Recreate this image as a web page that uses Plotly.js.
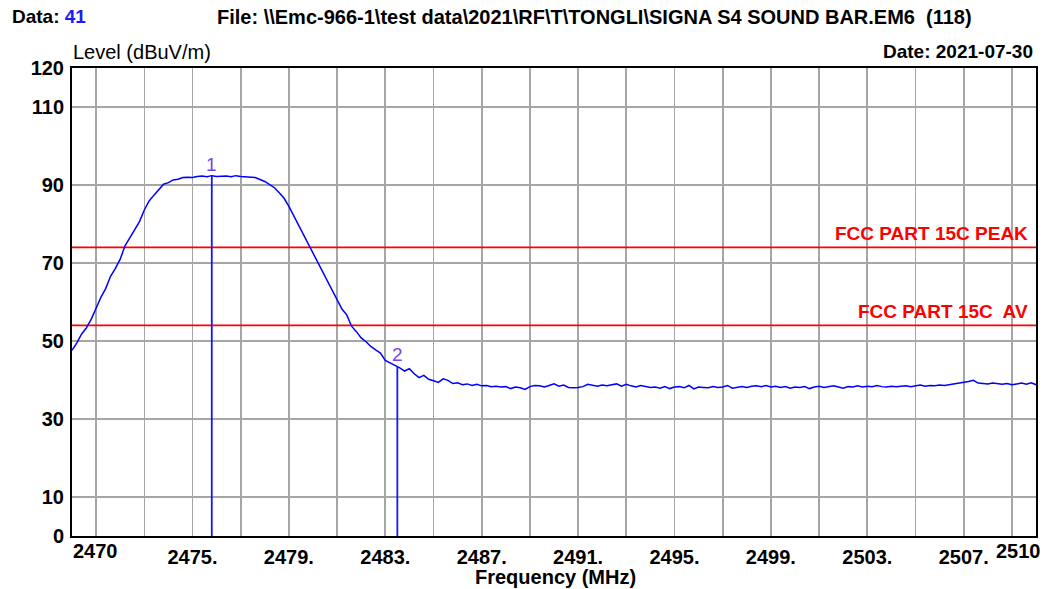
<!DOCTYPE html>
<html>
<head>
<meta charset="utf-8">
<script src="https://cdn.plot.ly/plotly-3.0.1.min.js"></script>
<style>
html,body{margin:0;padding:0;background:#fff;}
#chart{width:1044px;height:589px;}
</style>
</head>
<body>
<div id="chart"></div>
<script>
// ---------- data ----------
const freqMHz = [
  2470.0,2470.2,2470.4,2470.6,2470.8,
  2471.0,2471.2,2471.4,2471.6,2471.8,
  2472.0,2472.2,2472.4,2472.6,2472.8,
  2473.0,2473.2,2473.4,2473.6,2473.8,
  2474.0,2474.2,2474.4,2474.6,2474.8,
  2475.0,2475.2,2475.4,2475.6,2475.8,
  2476.0,2476.2,2476.4,2476.6,2476.8,
  2477.0,2477.2,2477.4,2477.6,2477.8,
  2478.0,2478.2,2478.4,2478.6,2478.8,
  2479.0,2479.2,2479.4,2479.6,2479.8,
  2480.0,2480.2,2480.4,2480.6,2480.8,
  2481.0,2481.2,2481.4,2481.6,2481.8,
  2482.0,2482.2,2482.4,2482.6,2482.8,
  2483.0,2483.2,2483.4,2483.6,2483.8,
  2484.0,2484.2,2484.4,2484.6,2484.8,
  2485.0,2485.2,2485.4,2485.6,2485.8,
  2486.0,2486.2,2486.4,2486.6,2486.8,
  2487.0,2487.2,2487.4,2487.6,2487.8,
  2488.0,2488.2,2488.4,2488.6,2488.8,
  2489.0,2489.2,2489.4,2489.6,2489.8,
  2490.0,2490.2,2490.4,2490.6,2490.8,
  2491.0,2491.2,2491.4,2491.6,2491.8,
  2492.0,2492.2,2492.4,2492.6,2492.8,
  2493.0,2493.2,2493.4,2493.6,2493.8,
  2494.0,2494.2,2494.4,2494.6,2494.8,
  2495.0,2495.2,2495.4,2495.6,2495.8,
  2496.0,2496.2,2496.4,2496.6,2496.8,
  2497.0,2497.2,2497.4,2497.6,2497.8,
  2498.0,2498.2,2498.4,2498.6,2498.8,
  2499.0,2499.2,2499.4,2499.6,2499.8,
  2500.0,2500.2,2500.4,2500.6,2500.8,
  2501.0,2501.2,2501.4,2501.6,2501.8,
  2502.0,2502.2,2502.4,2502.6,2502.8,
  2503.0,2503.2,2503.4,2503.6,2503.8,
  2504.0,2504.2,2504.4,2504.6,2504.8,
  2505.0,2505.2,2505.4,2505.6,2505.8,
  2506.0,2506.2,2506.4,2506.6,2506.8,
  2507.0,2507.2,2507.4,2507.6,2507.8,
  2508.0,2508.2,2508.4,2508.6,2508.8,
  2509.0,2509.2,2509.4,2509.6,2509.8,
  2510.0
];
const levelDbuvM = [
  47.6,49.5,51.8,53.4,55.6,
  58.4,61.2,63.5,66.6,68.6,
  71.0,74.4,76.4,78.3,80.6,
  83.6,85.9,87.4,88.8,90.2,
  90.6,91.3,91.5,91.9,92.0,
  91.9,92.2,92.3,92.1,92.4,
  92.2,92.3,92.3,92.1,92.4,
  92.2,92.1,92.1,91.9,91.4,
  90.9,90.1,89.3,88.0,86.6,
  84.5,82.1,79.7,77.2,75.0,
  72.4,70.0,67.8,65.4,62.7,
  60.3,58.2,56.7,53.8,52.4,
  50.8,49.8,48.6,47.7,46.9,
  45.0,44.4,43.6,43.1,42.3,
  42.9,41.6,40.6,41.2,40.2,
  39.8,39.4,40.3,39.9,39.1,
  39.3,38.8,39.0,38.6,38.9,
  38.5,38.6,38.3,38.4,38.2,
  38.3,37.8,38.2,38.0,37.6,
  38.3,38.6,38.5,38.2,38.6,
  39.0,38.4,38.7,38.1,38.0,
  38.1,38.3,38.9,38.6,38.4,
  38.7,38.5,38.8,39.0,38.4,
  38.9,38.5,38.2,38.6,38.4,
  38.1,38.2,37.9,38.3,37.8,
  38.2,38.3,38.0,38.6,37.7,
  38.2,38.1,38.0,38.3,38.1,
  38.2,38.6,37.9,38.1,38.3,
  38.1,38.4,38.5,38.3,38.6,
  38.2,38.4,38.1,38.3,37.9,
  38.2,38.1,38.3,37.8,38.2,
  38.4,38.1,38.3,38.5,38.2,
  37.9,38.3,38.2,38.5,38.2,
  38.4,38.3,38.6,38.3,38.2,
  38.4,38.3,38.4,38.5,38.3,
  38.5,38.7,38.4,38.6,38.5,
  38.7,38.6,38.8,38.9,39.1,
  39.4,39.6,39.9,39.2,39.1,
  39.0,39.2,39.0,38.9,39.1,
  38.8,39.0,39.2,38.9,39.3,
  38.8
];

const limitNames = ["FCC PART 15C PEAK", "FCC PART 15C\u00a0 AV"];
const limitLevels = [74, 54];

const markerLabels = ["1", "2"];
const markerFreqs = [2475.8, 2483.5];
const markerLevels = [92.4, 43.5];

const xTickVals = [2471,2473,2475,2477,2479,2481,2483,2485,2487,2489,2491,2493,2495,2497,2499,2501,2503,2505,2507,2509];
const xTickText = ["","","2475.","","2479.","","2483.","","2487.","","2491.","","2495.","","2499.","","2503.","","2507.",""];
const xStartLabel = "2470";
const xStopLabel = "2510";
const yTickVals = [0,10,30,50,70,90,110,120];
const yTickText = ["0","10","30","50","70","90","110","120"];

const headerData = "Data: ";
const headerDataNum = "41";
const headerFile = "File: \\\\Emc-966-1\\test data\\2021\\RF\\T\\TONGLI\\SIGNA S4 SOUND BAR.EM6 \u00a0(118)";
const headerDate = "Date: 2021-07-30";
const yTitle = "Level (dBuV/m)";
const xTitle = "Frequency (MHz)";

// ---------- traces ----------
const FONT = '"Liberation Sans", Arial, sans-serif';
const traces = [];
limitLevels.forEach((lv, i) => {
  traces.push({
    x: [2470, 2510], y: [lv, lv], mode: 'lines', type: 'scatter',
    line: {color: '#ff0000', width: 1.6}, hoverinfo: 'skip', showlegend: false
  });
});
traces.push({
  x: freqMHz, y: levelDbuvM, mode: 'lines', type: 'scatter',
  line: {color: '#0000ff', width: 1.5}, showlegend: false
});
markerFreqs.forEach((f, i) => {
  traces.push({
    x: [f, f], y: [0, markerLevels[i]], mode: 'lines', type: 'scatter',
    line: {color: '#1515ff', width: 1.8}, showlegend: false, hoverinfo: 'skip'
  });
});

// ---------- annotations ----------
const L = 72, R = 1036, T = 68, B = 536;
const W = R - L, H = B - T;
const px = v => (v - L) / W;
const py = v => (B - v) / H;
const ann = [];
ann.push({xref:'paper', yref:'paper', x: px(10), y: py(17), xanchor:'left', yanchor:'middle', showarrow:false,
  text: '<b>' + headerData + '<span style="color:#1a1aff">' + headerDataNum + '</span></b>',
  font:{family:FONT, size:19, color:'#000'}});
ann.push({xref:'paper', yref:'paper', x: px(215), y: py(17), xanchor:'left', yanchor:'middle', showarrow:false,
  text: '<b>' + headerFile + '</b>', font:{family:FONT, size:20, color:'#000'}});
ann.push({xref:'paper', yref:'paper', x: px(71), y: py(52), xanchor:'left', yanchor:'middle', showarrow:false,
  text: yTitle, font:{family:FONT, size:20, color:'#000'}});
ann.push({xref:'paper', yref:'paper', x: px(1035), y: py(52), xanchor:'right', yanchor:'middle', showarrow:false,
  text: '<b>' + headerDate + '</b>', font:{family:FONT, size:19, color:'#000'}});
ann.push({xref:'paper', yref:'paper', x: px(555), y: py(577), xanchor:'center', yanchor:'middle', showarrow:false,
  text: '<b>' + xTitle + '</b>', font:{family:FONT, size:20, color:'#000'}});
ann.push({xref:'paper', yref:'paper', x: px(71), y: py(551), xanchor:'left', yanchor:'middle', showarrow:false,
  text: '<b>' + xStartLabel + '</b>', font:{family:FONT, size:20, color:'#000'}});
ann.push({xref:'paper', yref:'paper', x: px(1043), y: py(551), xanchor:'right', yanchor:'middle', showarrow:false,
  text: '<b>' + xStopLabel + '</b>', font:{family:FONT, size:20, color:'#000'}});
limitLevels.forEach((lv, i) => {
  ann.push({xref:'x', yref:'y', x: 2510, y: lv, xanchor:'right', yanchor:'bottom', xshift:-6, yshift:1, showarrow:false,
    text: '<b>' + limitNames[i] + '</b>', font:{family:FONT, size:19, color:'#ff0000'}});
});
markerFreqs.forEach((f, i) => {
  ann.push({xref:'x', yref:'y', x: f, y: markerLevels[i], xanchor:'center', yanchor:'bottom', yshift:-1, showarrow:false,
    text: markerLabels[i], font:{family:FONT, size:19, color:'#7b3ff2'}});
});

const layout = {
  width: 1044, height: 589,
  margin: {l: L, r: 1044 - R, t: T, b: 589 - B, pad: 0},
  paper_bgcolor: '#fff', plot_bgcolor: '#fff',
  showlegend: false,
  font: {family: FONT, size: 20, color: '#000'},
  xaxis: {
    range: [2470, 2510], tickmode: 'array', tickvals: xTickVals, ticktext: xTickText,
    showgrid: true, gridcolor: '#a6a6a6', gridwidth: 1.6, zeroline: false,
    showline: true, linecolor: '#000', linewidth: 2, mirror: true, ticks: '',
    tickfont: {family: FONT, size: 20, color: '#000', weight: 'bold'}, ticklabelstandoff: 2
  },
  yaxis: {
    range: [0, 120], tickmode: 'array', tickvals: yTickVals, ticktext: yTickText,
    showgrid: true, gridcolor: '#a6a6a6', gridwidth: 1.6, zeroline: false,
    showline: true, linecolor: '#000', linewidth: 2, mirror: true, ticks: '',
    tickfont: {family: FONT, size: 20, color: '#000', weight: 'bold'}, ticklabelstandoff: 2
  },
  annotations: ann
};

Plotly.newPlot('chart', traces, layout, {staticPlot: true, displayModeBar: false});
</script>
</body>
</html>
